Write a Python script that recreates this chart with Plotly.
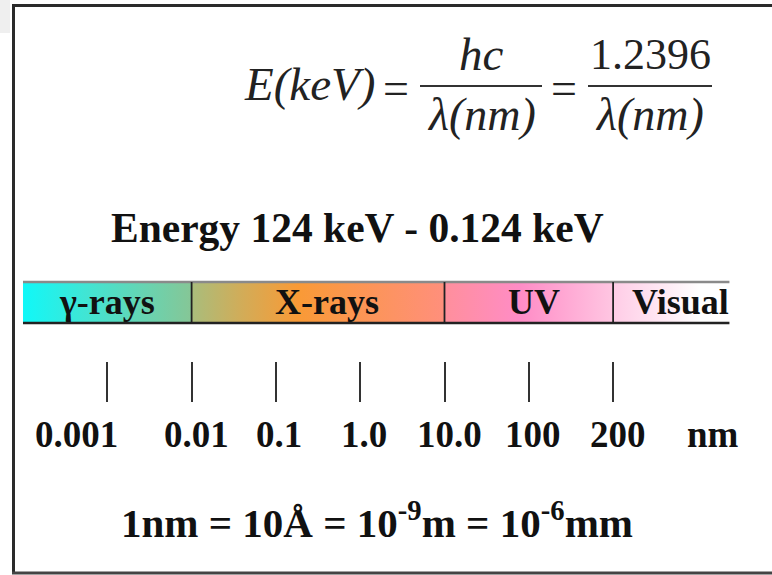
import plotly.graph_objects as go

# ---------------- data ----------------
# wavelength tick labels (evenly spaced positions on a log-like scale, index units)
tick_labels = ["0.001", "0.01", "0.1", "1.0", "10.0", "100", "200"]
tick_index = [0, 1, 2, 3, 4, 5, 6]
unit_label = "nm"
unit_index = 7.18

# spectral bands: names and edges (in tick-index units)
band_names = ["γ-rays", "X-rays", "UV", "Visual"]
band_edges = [-1.0, 1.0, 4.0, 6.0, 7.38]
band_colors = [
    [[0.0, "#10F8F8"], [0.35, "#3EE6D6"], [1.0, "#86C696"]],
    [[0.0, "#A9BD7C"], [0.2, "#D2AC58"], [0.42, "#F99A36"], [1.0, "#FF8F7C"]],
    [[0.0, "#FF8F9C"], [0.45, "#FF8CC6"], [1.0, "#FFC6E2"]],
    [[0.0, "#FFCCE6"], [0.75, "#FFFFFF"], [1.0, "#FFFFFF"]],
]

formula_lhs = "E(keV)"
formula_num1 = "hc"
formula_den = "λ(nm)"
formula_num2 = "1.2396"
energy_text = "Energy 124 keV - 0.124 keV"
units_text = "1nm = 10Å = 10<sup>-9</sup>m = 10<sup>-6</sup>mm"

# ---------------- layout helpers ----------------
W, H = 772, 575
PX_PER_UNIT = 84.3
X0_PX = 107.3
x_range = [-X0_PX / PX_PER_UNIT, (W - X0_PX) / PX_PER_UNIT]
BAR_TOP, BAR_BOT = 282, 323
SERIF = "Liberation Serif, Times New Roman, serif"
INK = "#111111"


def px(x):
    return x / W


fig = go.Figure()

# gradient bands
for i, name in enumerate(band_names):
    x0, x1 = band_edges[i], band_edges[i + 1]
    fig.add_trace(go.Scatter(
        x=[x0, x1, x1, x0, x0],
        y=[BAR_TOP, BAR_TOP, BAR_BOT, BAR_BOT, BAR_TOP],
        mode="lines", fill="toself",
        fillgradient=dict(type="horizontal", colorscale=band_colors[i]),
        line=dict(width=0), hoverinfo="skip", showlegend=False,
    ))

shapes = []
# background strip top-left
shapes.append(dict(type="rect", xref="paper", yref="y", x0=0, x1=px(10), y0=0, y1=33,
                   fillcolor="#EFEFEF", line=dict(width=0), layer="below"))
# frame (left, top, bottom edges; open to the right)
FRAME = dict(color="#2A2A2A", width=3)
shapes.append(dict(type="line", xref="paper", yref="y", x0=px(13.5), x1=px(13.5), y0=4.5, y1=573.5,
                   line=FRAME))
shapes.append(dict(type="line", xref="paper", yref="y", x0=px(12), x1=1, y0=5.5, y1=5.5,
                   line=FRAME))
shapes.append(dict(type="line", xref="paper", yref="y", x0=px(12), x1=1, y0=573, y1=573,
                   line=dict(color="#444444", width=3)))
# bar top / bottom lines
shapes.append(dict(type="line", xref="x", yref="y", x0=band_edges[0], x1=band_edges[-1],
                   y0=BAR_TOP, y1=BAR_TOP, line=dict(color="#8A8A8A", width=2.5)))
shapes.append(dict(type="line", xref="x", yref="y", x0=band_edges[0], x1=band_edges[-1],
                   y0=BAR_BOT, y1=BAR_BOT, line=dict(color="#222222", width=2.5)))
# band dividers
for e in band_edges[1:-1]:
    shapes.append(dict(type="line", xref="x", yref="y", x0=e, x1=e,
                       y0=BAR_TOP, y1=BAR_BOT, line=dict(color="#222222", width=1.8)))
# fraction bars
shapes.append(dict(type="line", xref="paper", yref="y", x0=px(420), x1=px(542), y0=86, y1=86,
                   line=dict(color="#333333", width=2.2)))
shapes.append(dict(type="line", xref="paper", yref="y", x0=px(588), x1=px(712), y0=86, y1=86,
                   line=dict(color="#333333", width=2.2)))

ann = []
# band labels
label_shift = [0, 9, 5, 9]
for i, name in enumerate(band_names):
    xc = (band_edges[i] + band_edges[i + 1]) / 2
    ann.append(dict(x=xc, y=(BAR_TOP + BAR_BOT) / 2 - 1, xref="x", yref="y", text=f"<b>{name}</b>",
                    showarrow=False, xshift=label_shift[i], xanchor="center", yanchor="middle",
                    font=dict(family=SERIF, size=36, color=INK)))
# tick labels
tick_shift = [-31, 5, 3, 4, 5, 4, 5]
for i, lab in enumerate(tick_labels):
    ann.append(dict(x=tick_index[i], y=434, xref="x", yref="y", text=f"<b>{lab}</b>",
                    showarrow=False, xshift=tick_shift[i], xanchor="center", yanchor="middle",
                    font=dict(family=SERIF, size=37, color=INK)))
ann.append(dict(x=unit_index, y=434, xref="x", yref="y", text=f"<b>{unit_label}</b>",
                showarrow=False, xanchor="center", yanchor="middle",
                font=dict(family=SERIF, size=37, color=INK)))
# energy text
ann.append(dict(x=px(357), y=228, xref="paper", yref="y", text=f"<b>{energy_text}</b>",
                showarrow=False, xanchor="center", yanchor="middle",
                font=dict(family=SERIF, size=41.5, color=INK)))
# units text
ann.append(dict(x=px(377), y=520, xref="paper", yref="y", text=f"<b>{units_text}</b>",
                showarrow=False, xanchor="center", yanchor="middle",
                font=dict(family=SERIF, size=41, color=INK)))
# formula
FCOL = "#222222"
ann.append(dict(x=px(377), y=84, xref="paper", yref="y", text=f"<i>{formula_lhs}</i>",
                showarrow=False, xanchor="right", yanchor="middle",
                font=dict(family=SERIF, size=47, color=FCOL)))
for xe in (396, 564):
    ann.append(dict(x=px(xe), y=88, xref="paper", yref="y", text="=",
                    showarrow=False, xanchor="center", yanchor="middle",
                    font=dict(family=SERIF, size=46, color=FCOL)))
ann.append(dict(x=px(481), y=54, xref="paper", yref="y", text=f"<i>{formula_num1}</i>",
                showarrow=False, xanchor="center", yanchor="middle",
                font=dict(family=SERIF, size=47, color=FCOL)))
ann.append(dict(x=px(481), y=114, xref="paper", yref="y", text=f"<i>{formula_den}</i>",
                showarrow=False, xanchor="center", yanchor="middle",
                font=dict(family=SERIF, size=46, color=FCOL)))
ann.append(dict(x=px(650), y=54, xref="paper", yref="y", text=formula_num2,
                showarrow=False, xanchor="center", yanchor="middle",
                font=dict(family=SERIF, size=44, color=FCOL)))
ann.append(dict(x=px(649), y=114, xref="paper", yref="y", text=f"<i>{formula_den}</i>",
                showarrow=False, xanchor="center", yanchor="middle",
                font=dict(family=SERIF, size=46, color=FCOL)))

fig.update_layout(
    width=W, height=H,
    margin=dict(l=0, r=0, t=0, b=0),
    paper_bgcolor="white", plot_bgcolor="white",
    shapes=shapes, annotations=ann,
    xaxis=dict(range=x_range, tickvals=tick_index, showticklabels=False,
               ticks="inside", ticklen=40, tickwidth=1.5, tickcolor="#333333",
               showgrid=False, zeroline=False, showline=False,
               anchor="free", position=1 - 402 / H, fixedrange=True),
    yaxis=dict(range=[H, 0], visible=False, showgrid=False, zeroline=False, fixedrange=True),
    showlegend=False,
)

fig.write_html("out.html", config={"displayModeBar": False},
               post_script="document.body.style.margin='0';document.body.style.overflow='hidden';")
